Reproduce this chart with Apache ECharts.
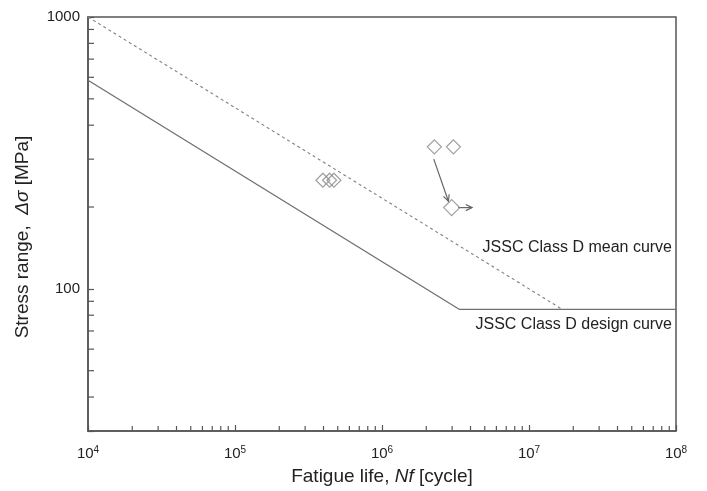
<!DOCTYPE html>
<html>
<head>
<meta charset="utf-8">
<script src="https://cdn.jsdelivr.net/npm/echarts@6.0.0/dist/echarts.min.js"></script>
<style>
  html, body { margin: 0; padding: 0; background: #fff; }
  #chart { width: 707px; height: 491px; }
</style>
</head>
<body>
<div id="chart"></div>
<script>
// S-N 曲线 (JSSC Class D)
const meanN = [1e4, 1.687e7]
const meanS = [1000, 84]
const designN = [1e4, 3.37e6, 1e8]
const designS = [585, 84, 84]

// 试验点
const testN = [3.96e5, 4.4e5, 4.71e5, 2.27e6, 3.06e6]
const testS = [251, 251, 251, 333, 333]
const runoutN = [2.98e6]
const runoutS = [199]

// 箭头 (起点 -> 终点)
const arrowFrom = [[2.25e6, 300], [3.3e6, 199]]
const arrowTo = [[2.83e6, 210], [4.1e6, 199]]

// 曲线标注
const curveLabels = ['JSSC Class D mean curve', 'JSSC Class D design curve']
const labelS = [142, 73.8]

// 轴范围与刻度
const xMin = 1e4
const xMax = 1e8
const yMin = 30
const yMax = 1000
const xDecades = [1e4, 1e5, 1e6, 1e7]
const yMinorTicks = [40, 50, 60, 70, 80, 90, 200, 300, 400, 500, 600, 700, 800, 900]
const minorSteps = [2, 3, 4, 5, 6, 7, 8, 9]
const xMinorTicks = []
xDecades.forEach((d) => {
  minorSteps.forEach((m) => xMinorTicks.push(d * m))
})

const axisColor = '#555'
const font = 'Liberation Sans, Arial, sans-serif'

function zip(a, b) {
  return a.map((v, i) => [v, b[i]])
}

function isDecade(v) {
  const l = Math.log10(v)
  return Math.abs(l - Math.round(l)) < 1e-6
}

const chart = echarts.init(document.getElementById('chart'))
chart.setOption({
  animation: false,
  grid: {
    left: 88,
    right: 31,
    top: 17,
    bottom: 57,
    show: true,
    borderColor: axisColor,
    borderWidth: 1.5,
    backgroundColor: 'transparent'
  },
  xAxis: {
    type: 'log',
    logBase: 10,
    min: xMin,
    max: xMax,
    splitLine: { show: false },
    axisLine: { lineStyle: { color: axisColor, width: 1.5 } },
    axisTick: { inside: true, length: 6, lineStyle: { color: axisColor, width: 1.2 } },
    axisLabel: {
      margin: 14,
      color: '#222',
      fontFamily: font,
      formatter: function(v) {
        if (!isDecade(v)) return ''
        return '{b|10}{s|' + Math.round(Math.log10(v)) + '}'
      },
      rich: {
        b: { fontSize: 15, fontFamily: font, color: '#222' },
        s: { fontSize: 10, fontFamily: font, color: '#222', padding: [0, 0, 7, 0] }
      }
    },
    name: '{t|Fatigue life, }{i|Nf}{t| [cycle]}',
    nameLocation: 'middle',
    nameGap: 36,
    nameTextStyle: {
      rich: {
        t: { fontSize: 19, fontFamily: font, color: '#222' },
        i: { fontSize: 19, fontFamily: font, color: '#222', fontStyle: 'italic' }
      }
    }
  },
  yAxis: {
    type: 'log',
    logBase: 10,
    min: yMin,
    max: yMax,
    splitLine: { show: false },
    axisLine: { lineStyle: { color: axisColor, width: 1.5 } },
    axisTick: { inside: true, length: 6, lineStyle: { color: axisColor, width: 1.2 } },
    axisLabel: {
      margin: 8,
      fontSize: 15,
      fontFamily: font,
      color: '#222',
      formatter: function(v) {
        return isDecade(v) ? String(Math.round(v)) : ''
      }
    },
    name: '{t|Stress range,  }{i|Δσ}{t| [MPa]}',
    nameLocation: 'middle',
    nameGap: 56,
    nameTextStyle: {
      padding: [0, 26, 0, 0],
      rich: {
        t: { fontSize: 19, fontFamily: font, color: '#222' },
        i: { fontSize: 19, fontFamily: font, color: '#222', fontStyle: 'italic' }
      }
    }
  },
  series: [
    {
      name: 'mean',
      type: 'line',
      data: zip(meanN, meanS),
      symbol: 'none',
      lineStyle: { color: '#808080', width: 1.1, type: [3, 3] }
    },
    {
      name: 'design',
      type: 'line',
      data: zip(designN, designS),
      symbol: 'none',
      lineStyle: { color: '#707070', width: 1.3 }
    },
    {
      name: 'test',
      type: 'scatter',
      data: zip(testN, testS),
      symbol: 'diamond',
      symbolSize: 14,
      itemStyle: { color: 'transparent', borderColor: '#888', borderWidth: 1.2 }
    },
    {
      name: 'runout',
      type: 'scatter',
      data: zip(runoutN, runoutS),
      symbol: 'diamond',
      symbolSize: 16,
      itemStyle: { color: 'transparent', borderColor: '#888', borderWidth: 1.2 }
    },
    {
      name: 'arrows',
      type: 'custom',
      clip: false,
      data: arrowFrom.map((p, i) => [p[0], p[1], arrowTo[i][0], arrowTo[i][1]]),
      renderItem: function(params, api) {
        const p1 = api.coord([api.value(0), api.value(1)])
        const p2 = api.coord([api.value(2), api.value(3)])
        const ang = Math.atan2(p2[1] - p1[1], p2[0] - p1[0])
        const h = 7
        const w = 0.45
        const a1 = [p2[0] - h * Math.cos(ang - w), p2[1] - h * Math.sin(ang - w)]
        const a2 = [p2[0] - h * Math.cos(ang + w), p2[1] - h * Math.sin(ang + w)]
        const style = { stroke: '#666', lineWidth: 1.2, fill: null }
        return {
          type: 'group',
          children: [
            { type: 'line', shape: { x1: p1[0], y1: p1[1], x2: p2[0], y2: p2[1] }, style: style },
            { type: 'polyline', shape: { points: [a1, p2, a2] }, style: style }
          ]
        }
      }
    },
    {
      name: 'xMinorTicks',
      type: 'custom',
      clip: false,
      silent: true,
      data: xMinorTicks.map((v) => [v, yMin]),
      renderItem: function(params, api) {
        const p = api.coord([api.value(0), api.value(1)])
        return {
          type: 'line',
          shape: { x1: p[0], y1: p[1], x2: p[0], y2: p[1] - 5 },
          style: { stroke: axisColor, lineWidth: 1.2 }
        }
      }
    },
    {
      name: 'yMinorTicks',
      type: 'custom',
      clip: false,
      silent: true,
      data: yMinorTicks.map((v) => [xMin, v]),
      renderItem: function(params, api) {
        const p = api.coord([api.value(0), api.value(1)])
        return {
          type: 'line',
          shape: { x1: p[0], y1: p[1], x2: p[0] + 6, y2: p[1] },
          style: { stroke: axisColor, lineWidth: 1.2 }
        }
      }
    },
    {
      name: 'labels',
      type: 'custom',
      clip: false,
      silent: true,
      data: labelS.map((s, i) => ({ value: [xMax, s], name: curveLabels[i] })),
      renderItem: function(params, api) {
        const p = api.coord([api.value(0), api.value(1)])
        return {
          type: 'text',
          x: p[0] - 4,
          y: p[1],
          style: {
            text: curveLabels[params.dataIndex],
            align: 'right',
            verticalAlign: 'middle',
            fontSize: 16,
            fontFamily: font,
            fill: '#222'
          }
        }
      }
    }
  ]
})
</script>
</body>
</html>
